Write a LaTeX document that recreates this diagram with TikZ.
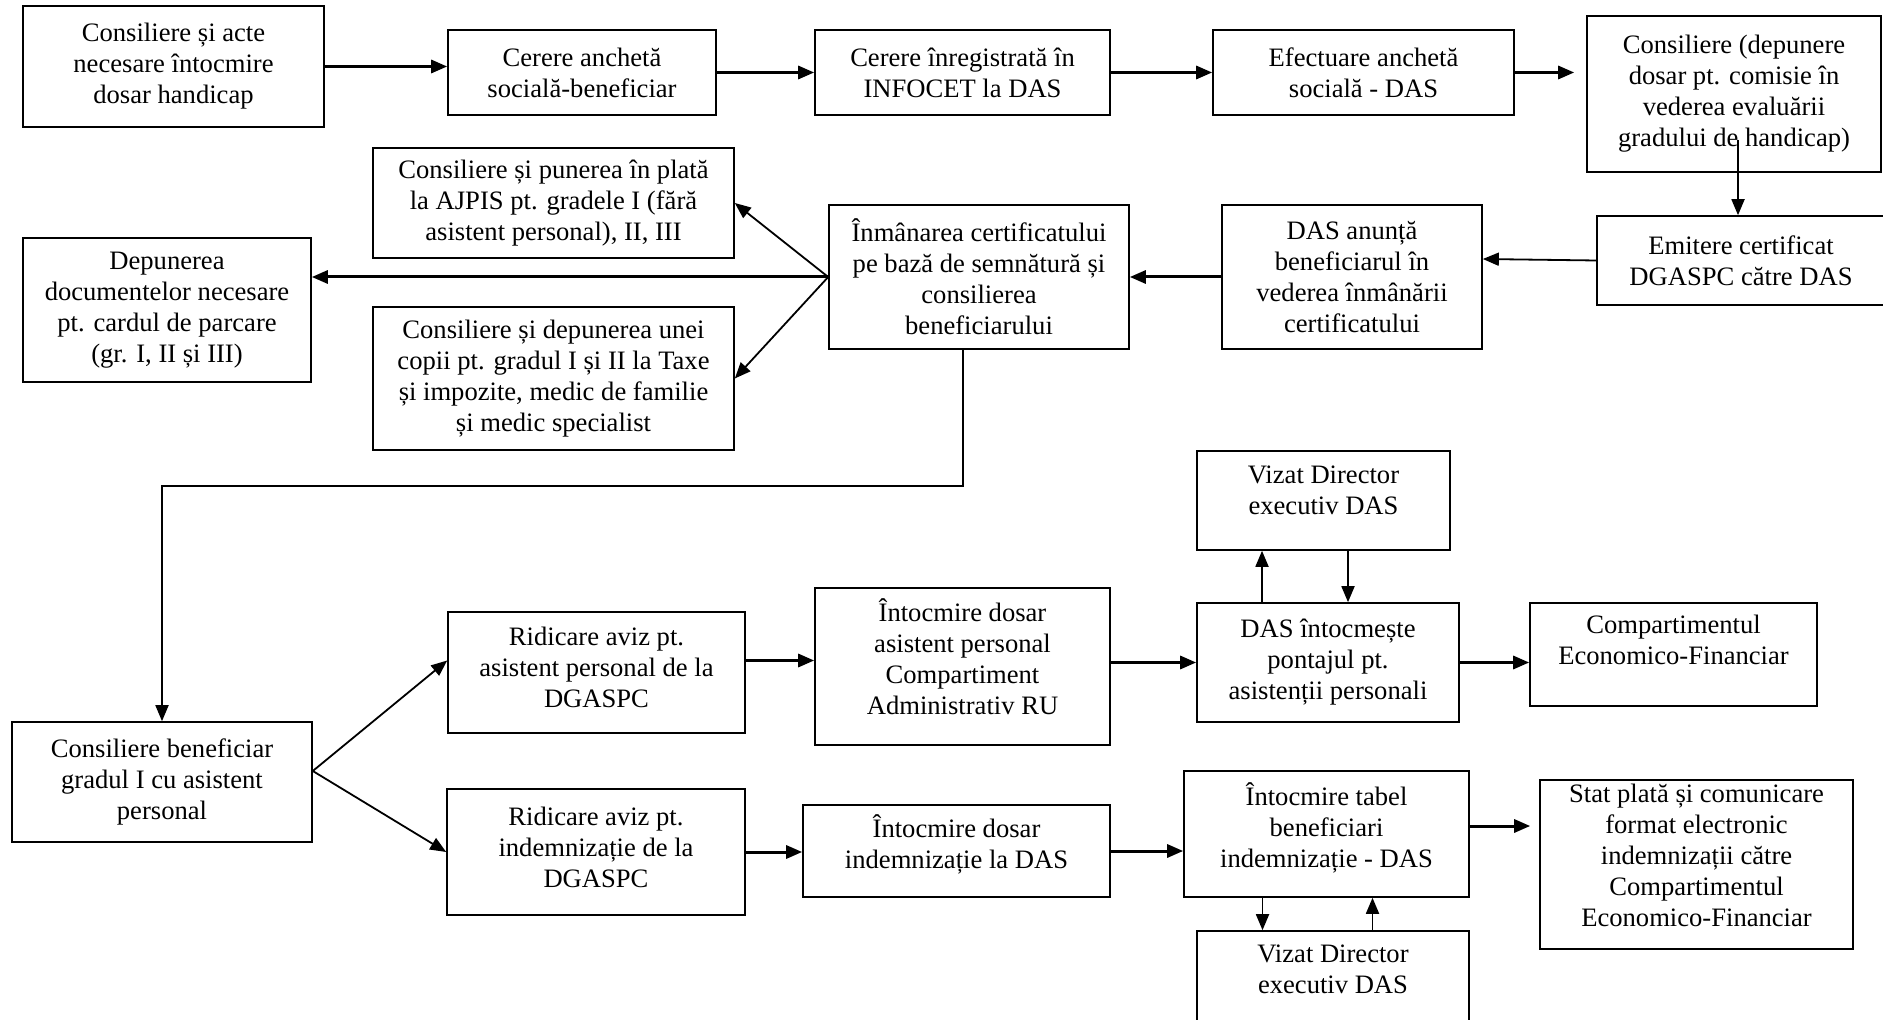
\documentclass[tikz,border=0pt]{standalone}
\usepackage{fontspec}
\setmainfont{Liberation Serif}
\usetikzlibrary{calc,arrows.meta,positioning}

\begin{document}
\begin{tikzpicture}[x=0.5pt, y=-0.5pt, >={Triangle[length=8pt,width=6.5pt]},
    font=\fontsize{13.3}{15.5}\selectfont,
    box/.style={draw, line width=0.8pt, align=center, inner sep=2pt},
    lift/.style={text depth=#1},
    flow/.style={->, line width=1.5pt},
    link/.style={->, line width=0.9pt}]
    % picture frame (pixels of the page)
    \useasboundingbox (0,0) rectangle (1883,1020);

    % Top row
    \node[box, minimum width=150.5pt, minimum height=60.5pt] (Advice) at (173.5,66.5) {Consiliere și acte\\necesare întocmire\\dosar handicap};
    \node[box, minimum width=134pt, minimum height=42.5pt] (Request) at (582,72.5) {Cerere anchetă\\socială-beneficiar};
    \node[box, minimum width=147.5pt, minimum height=42.5pt] (Registered) at (962.5,72.5) {Cerere înregistrată în\\INFOCET la DAS};
    \node[box, minimum width=150.5pt, minimum height=42.5pt] (Inquiry) at (1363.5,72.5) {Efectuare anchetă\\socială - DAS};
    \node[box, minimum width=147pt, minimum height=78pt] (Commission) at (1734,94) {Consiliere (depunere\\dosar pt. comisie în\\vederea evaluării\\gradului de handicap)};

    % Certificate row
    \node[box, minimum width=144pt, minimum height=44.5pt] (Certificate) at (1741,260.5) {Emitere certificat\\DGASPC către DAS};
    \node[box, minimum width=130pt, minimum height=72pt] (Announce) at (1352,277) {DAS anunță\\beneficiarul în\\vederea înmânării\\certificatului};
    \node[box, minimum width=150pt, minimum height=72pt] (Handover) at (979,277) {Înmânarea certificatului\\pe bază de semnătură și\\consilierea\\beneficiarului};
    \node[box, minimum width=180.5pt, minimum height=55pt] (Payment) at (553.5,203) {Consiliere și punerea în plată\\la AJPIS pt. gradele I (fără\\asistent personal), II, III};
    \node[box, minimum width=144pt, minimum height=72pt] (Parking) at (167,310) {Depunerea\\documentelor necesare\\pt. cardul de parcare\\(gr. I, II și III)};
    \node[box, minimum width=180.5pt, minimum height=71.5pt] (Copies) at (553.5,378.5) {Consiliere și depunerea unei\\copii pt. gradul I și II la Taxe\\și impozite, medic de familie\\și medic specialist};

    % Grade I with personal assistant
    \node[box, minimum width=150pt, minimum height=60pt] (Beneficiary) at (162,782) {Consiliere beneficiar\\gradul I cu asistent\\personal};
    \node[box, minimum width=148.5pt, minimum height=60.5pt, lift=5pt] (NoticeAP) at (596.5,672.5) {Ridicare aviz pt.\\asistent personal de la\\DGASPC};
    \node[box, minimum width=149pt, minimum height=63pt, lift=5pt] (NoticeInd) at (596,852) {Ridicare aviz pt.\\indemnizație de la\\DGASPC};
    \node[box, minimum width=147.5pt, minimum height=78.5pt, lift=10pt] (FileAP) at (962.5,666.5) {Întocmire dosar\\asistent personal\\Compartiment\\Administrativ RU};
    \node[box, minimum width=153.5pt, minimum height=46pt, lift=9pt] (FileInd) at (956.5,851) {Întocmire dosar\\indemnizație la DAS};
    \node[box, minimum width=126.5pt, minimum height=49.5pt, lift=10pt] (VisaTop) at (1323.5,500.5) {Vizat Director\\executiv DAS};
    \node[box, minimum width=131pt, minimum height=59.5pt] (Timesheet) at (1328,662.5) {DAS întocmește\\pontajul pt.\\asistenții personali};
    \node[box, minimum width=143.5pt, minimum height=51.5pt, lift=15pt] (Economic) at (1673.5,654.5) {Compartimentul\\Economico-Financiar};
    \node[box, minimum width=142.5pt, minimum height=63pt, lift=9pt] (Table) at (1326.5,834) {Întocmire tabel\\beneficiari\\indemnizație - DAS};
    \node[box, minimum width=136pt, minimum height=49.5pt, lift=11pt] (VisaBottom) at (1333,980.5) {Vizat Director\\executiv DAS};
    \node[box, minimum width=156.5pt, minimum height=83.5pt, lift=9pt] (Payroll) at (1696.5,864.5) {Stat plată și comunicare\\format electronic\\indemnizații către\\Compartimentul\\Economico-Financiar};

    % Top row arrows
    \draw[flow] (Advice.east) -- (Advice.east -| Request.west);
    \draw[flow] (Request.east) -- (Registered.west);
    \draw[flow] (Registered.east) -- (Inquiry.west);
    \draw[flow, shorten >=6pt] (Inquiry.east) -- (Inquiry.east -| Commission.west);
    \coordinate (CommStart) at (1738,140);
    \draw[link] (CommStart) -- (CommStart |- Certificate.north);

    % Back towards the left
    \draw[link] (Certificate.west) -- ([yshift=9pt]Announce.east);
    \draw[flow] (Announce.west) -- (Handover.east);
    \draw[link] (Handover.west) -- (Payment.east);
    \draw[flow] (Handover.west) -- (Handover.west -| Parking.east);
    \draw[link] (Handover.west) -- (Copies.east);

    % Down to grade I
    \coordinate (Turn) at (162,486);
    \draw[link] ([xshift=-8pt]Handover.south) |- (Turn) -- (Beneficiary.north);
    \coordinate (Fork) at ([yshift=5.5pt]Beneficiary.east);
    \draw[link] (Fork) -- ([yshift=6pt]NoticeAP.west);
    \draw[link] (Fork) -- (NoticeInd.west);

    % Personal assistant branch
    \draw[flow] ([yshift=6pt]NoticeAP.east) -- ([yshift=6pt]NoticeAP.east -| FileAP.west);
    \draw[flow] (FileAP.east |- Timesheet.west) -- (Timesheet.west);
    \draw[flow] (Timesheet.east) -- (Timesheet.east -| Economic.west);
    \draw[link] ([xshift=-33pt]Timesheet.north) -- ([xshift=-33pt]Timesheet.north |- VisaTop.south);
    \draw[link] ([xshift=10pt]Timesheet.north |- VisaTop.south) -- ([xshift=10pt]Timesheet.north);

    % Indemnity branch
    \draw[flow] (NoticeInd.east) -- (NoticeInd.east -| FileInd.west);
    \draw[flow] (FileInd.east) -- (FileInd.east -| Table.west);
    \draw[flow, shorten >=4.5pt] ([yshift=4pt]Table.east) -- ([yshift=4pt]Table.east -| Payroll.west);
    \draw[link] ([xshift=-32pt]Table.south) -- ([xshift=-32pt]Table.south |- VisaBottom.north);
    \draw[link] ([xshift=23pt]Table.south |- VisaBottom.north) -- ([xshift=23pt]Table.south);
\end{tikzpicture}
\end{document}
